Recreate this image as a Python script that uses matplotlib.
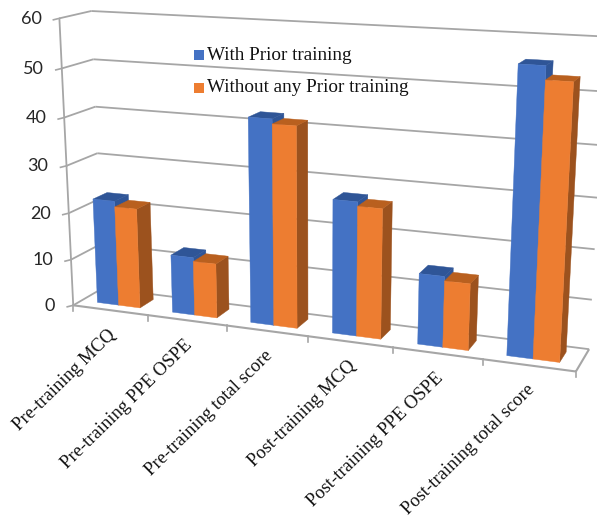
import numpy as np
import matplotlib

matplotlib.use("Agg")
import matplotlib.pyplot as plt

categories = [
    "Pre-training MCQ",
    "Pre-training PPE OSPE",
    "Pre-training total score",
    "Post-training MCQ",
    "Post-training PPE OSPE",
    "Post-training total score",
]
with_prior = [22.5, 12.3, 42.2, 27.3, 14.3, 55.6]
without_prior = [21.3, 11.5, 41.2, 26.4, 13.4, 53.0]
series_names = ["With Prior training", "Without any Prior training"]
y_ticks = [0, 10, 20, 30, 40, 50, 60]

BLUE = {"front": "#4472C4", "top": "#2F5597", "side": "#2F5597"}
ORANGE = {"front": "#ED7D31", "top": "#B9601F", "side": "#9C521E"}
GRID = "#A6A6A6"

# chart box corners as (category, depth, value) -> canvas pixel
BOX_WORLD = np.array([
    (0, 0, 0), (0, 0, 30), (0, 0, 60),
    (0, 1, 0), (0, 1, 30), (0, 1, 60),
    (6, 0, 0), (6, 1, 0), (6, 1, 30), (6, 1, 60),
], dtype=float)
BOX_PIXEL = np.array([
    (74, 305), (66, 165), (59, 19),
    (103, 289), (96.7, 152.7), (92, 11),
    (576, 372), (589, 349), (597, 197), (607, 37),
], dtype=float)


def fit_camera(world, pixel):
    rows = []
    for (x, d, z), (u, v) in zip(world, pixel):
        rows.append([x, d, z, 1, 0, 0, 0, 0, -u * x, -u * d, -u * z, -u])
        rows.append([0, 0, 0, 0, x, d, z, 1, -v * x, -v * d, -v * z, -v])
    return np.linalg.svd(np.array(rows))[2][-1].reshape(3, 4)


CAMERA = fit_camera(BOX_WORLD, BOX_PIXEL)


def project(x, d, z):
    p = CAMERA @ np.array([x, d, z, 1.0])
    return p[0] / p[2], p[1] / p[2]


def draw_line(ax, a, b, lw=1.3):
    pa, pb = project(*a), project(*b)
    ax.plot([pa[0], pb[0]], [pa[1], pb[1]], color=GRID, lw=lw, solid_capstyle="butt", zorder=1)


def draw_face(ax, corners, color):
    pts = [project(*c) for c in corners]
    ax.fill([p[0] for p in pts], [p[1] for p in pts], color=color, lw=0.3, zorder=2)


def draw_bar(ax, x0, x1, value, colors, d0=0.28, d1=0.75):
    draw_face(ax, [(x1, d0, 0), (x1, d1, 0), (x1, d1, value), (x1, d0, value)], colors["side"])
    draw_face(ax, [(x0, d0, value), (x1, d0, value), (x1, d1, value), (x0, d1, value)], colors["top"])
    draw_face(ax, [(x0, d0, 0), (x1, d0, 0), (x1, d0, value), (x0, d0, value)], colors["front"])


fig = plt.figure(figsize=(5.97, 5.2), dpi=100)
ax = fig.add_axes([0, 0, 1, 1])
ax.set_xlim(0, 597)
ax.set_ylim(520, 0)
ax.axis("off")

# walls and floor
for t in y_ticks:
    draw_line(ax, (0, 0, t), (0, 1, t))
    draw_line(ax, (0, 1, t), (6, 1, t))
    u, v = project(0, 0, t)
    ax.plot([u - 6, u], [v + 1.5, v], color=GRID, lw=1.2, zorder=1)
    ax.text(u - 18, v + 0.5, str(t), ha="right", va="center", fontsize=13, family="Lato", color="#262626")
draw_line(ax, (0, 0, 0), (0, 0, 60))
draw_line(ax, (0, 0, 0), (6, 0, 0), lw=1.5)
draw_line(ax, (6, 0, 0), (6, 1, 0), lw=1.5)

for i in range(len(categories) + 1):
    u, v = project(i, 0, 0)
    ax.plot([u, u], [v, v + 6], color=GRID, lw=1.2, zorder=1)

for i, label in enumerate(categories):
    draw_bar(ax, i + 0.214, i + 0.5, with_prior[i], BLUE)
    draw_bar(ax, i + 0.5, i + 0.786, without_prior[i], ORANGE)
    u, v = project(i + 0.5, 0, 0)
    ax.text(u + 3, v + 22, label, rotation=44.5, rotation_mode="anchor", ha="right", va="center",
            fontsize=13.4, family="Liberation Serif", color="#111111")

# legend
for name, colors, y in zip(series_names, (BLUE, ORANGE), (55, 88)):
    ax.fill([194, 204, 204, 194], [y - 5, y - 5, y + 5, y + 5], color=colors["front"], lw=0, zorder=4)
    ax.text(207, y, name, ha="left", va="center", fontsize=13.8, family="Liberation Serif",
            color="#111111", zorder=4)

fig.savefig("out.png", dpi=100)
plt.close(fig)
